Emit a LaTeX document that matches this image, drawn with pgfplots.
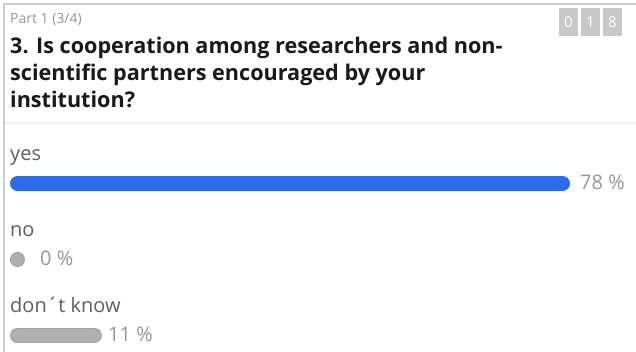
\documentclass[border=0pt]{standalone}
\usepackage{pgfplots}
\pgfplotsset{compat=1.18}
\usepackage{fontspec}
\setmainfont{Open Sans}
\definecolor{barblue}{RGB}{45,108,232}
\definecolor{bargray}{RGB}{176,176,176}
\definecolor{bargrayd}{RGB}{160,160,160}
\definecolor{lbl}{RGB}{95,95,95}
\definecolor{pct}{RGB}{150,150,150}
\definecolor{frm}{RGB}{205,205,205}
\definecolor{sep}{RGB}{238,238,238}
\definecolor{cbox}{RGB}{200,200,200}
\definecolor{ttl}{RGB}{25,25,25}
\begin{document}
\begin{tikzpicture}[x=1pt,y=1pt]
\useasboundingbox (0,0) rectangle (636,352);
\fill[white] (0,0) rectangle (636,352);
\draw[frm, line width=2pt] (4,0) -- (4,348) -- (636,348);
\draw[sep, line width=1.5pt] (5,229) -- (636,229);
% header
\node[anchor=base west, inner sep=0, text=pct, font=\fontsize{14}{15}\selectfont] at (10,328) {Part 1 (3/4)};
\node[anchor=base west, inner sep=0, text=ttl, font=\fontsize{21.6}{27}\selectfont\bfseries] at (10,298) {3. Is cooperation among researchers and non-};
\node[anchor=base west, inner sep=0, text=ttl, font=\fontsize{21.6}{27}\selectfont\bfseries] at (10,271) {scientific partners encouraged by your};
\node[anchor=base west, inner sep=0, text=ttl, font=\fontsize{21.6}{27}\selectfont\bfseries] at (10,244) {institution?};
% counter
\foreach \xx/\d in {559/0,581/1,603/8}{
  \fill[cbox] (\xx,316) rectangle ++(19,28);
  \node[text=white, font=\fontsize{15}{15}\selectfont] at (\xx+9.5,330) {\d};
}
% labels
\node[anchor=base west, inner sep=0, text=lbl, font=\fontsize{20}{20}\selectfont] at (10,191) {yes};
\node[anchor=base west, inner sep=0, text=lbl, font=\fontsize{20}{20}\selectfont] at (10,115) {no};
\node[anchor=base west, inner sep=0, text=lbl, font=\fontsize{20}{20}\selectfont] at (10,39) {don´t know};
\node[anchor=base west, inner sep=0, text=pct, font=\fontsize{20}{20}\selectfont] at (580,162) {78 \%};
\node[anchor=base west, inner sep=0, text=pct, font=\fontsize{20}{20}\selectfont] at (40,86.5) {0 \%};
\node[anchor=base west, inner sep=0, text=pct, font=\fontsize{20}{20}\selectfont] at (108,10.5) {11 \%};
% bars
\begin{axis}[
  at={(17.5pt,183.7pt)}, anchor=north west,
  width=545pt, height=182.4pt, scale only axis,
  xmin=0, xmax=78, ymin=-0.2, ymax=2.2, y dir=reverse,
  hide axis, clip=false,
]
\addplot[barblue, line width=15pt, line cap=round, mark=none] coordinates {(0,0) (78,0)};
\addplot[bargrayd, line width=15pt, line cap=round, mark=none] coordinates {(0,1) (0,1)};
\addplot[bargray, line width=13pt, line cap=round, mark=none] coordinates {(0,1) (0,1)};
\addplot[bargrayd, line width=15pt, line cap=round, mark=none] coordinates {(0,2) (11,2)};
\addplot[bargray, line width=13pt, line cap=round, mark=none] coordinates {(0,2) (11,2)};
\end{axis}
\end{tikzpicture}
\end{document}
